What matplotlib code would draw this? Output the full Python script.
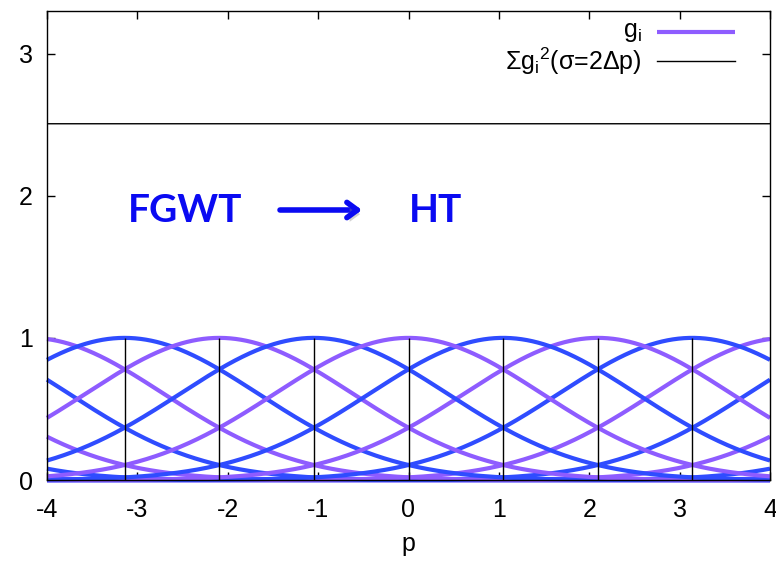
import numpy as np
import matplotlib
matplotlib.use("Agg")
import matplotlib.pyplot as plt
import matplotlib.patheffects as pe
from matplotlib.lines import Line2D

plt.rcParams["font.family"] = ["Liberation Sans", "DejaVu Sans"]
plt.rcParams["mathtext.fontset"] = "custom"
plt.rcParams["mathtext.rm"] = "Liberation Sans"
plt.rcParams["mathtext.it"] = "Liberation Sans:italic"
plt.rcParams["axes.unicode_minus"] = False

# ---------------------------------------------------------------------------
# Gaussian window family g_i(p) = exp(-(p - i*dp)^2 / sigma^2), sigma = 2 dp
# ---------------------------------------------------------------------------
dp = np.pi / 3                      # centre spacing
sigma = 2 * dp
idx = np.arange(-12, 13)            # window indices (far ones sit near zero)
centres = idx * dp

p_lo, p_hi = -4.0, 4.0
y_lo, y_hi = 0.0, 3.3
x_ticks = [-4, -3, -2, -1, 0, 1, 2, 3, 4]
y_ticks = [0, 1, 2, 3]

c_even = "#8E5CFF"   # purple
c_odd = "#2F4CFF"    # blue
c_text = "#0A0AF2"

p = np.linspace(p_lo, p_hi, 1200)
g = np.exp(-((p[None, :] - centres[:, None]) ** 2) / sigma ** 2)
gsum = (g ** 2).sum(axis=0)

fig = plt.figure(figsize=(7.76, 5.67), dpi=100)
ax = fig.add_axes([47 / 776, 1 - 480 / 567, 723 / 776, 469 / 567])

# order: far tails first so the visible bumps sit on top
order = np.argsort(-np.abs(idx))
for k in order:
    col = c_even if idx[k] % 2 == 0 else c_odd
    ax.plot(p, g[k], color=col, lw=3.0, solid_capstyle="butt",
            clip_on=False, zorder=2)

# peak markers
inside = centres[(centres > p_lo) & (centres < p_hi)]
ax.vlines(inside, 0, 1, color="black", lw=1.0, zorder=3)

ax.plot(p, gsum, color="black", lw=1.0, zorder=3)

ax.set_xlim(p_lo, p_hi)
ax.set_ylim(y_lo, y_hi)
ax.set_xticks(x_ticks)
ax.set_yticks(y_ticks)
ax.tick_params(direction="in", top=True, right=True, length=6, width=1,
               labelsize=18, pad=10)
ax.tick_params(axis="x", pad=13)
for s in ax.spines.values():
    s.set_linewidth(1.0)
    s.set_zorder(5)
ax.set_xlabel("p", fontsize=18, labelpad=7)

# key, gnuplot style (text right-aligned, sample to the right)
ax.text(0.823, 0.955, r"g$_\mathregular{i}$", transform=ax.transAxes,
        ha="right", va="center", fontsize=18)
ax.text(0.823, 0.893, r"Σg$_\mathregular{i}$$^\mathregular{2}$(σ=2Δp)",
        transform=ax.transAxes, ha="right", va="center", fontsize=18)
ax.add_line(Line2D([0.844, 0.951], [0.955, 0.955], transform=ax.transAxes,
                   color=c_even, lw=3.0, solid_capstyle="butt"))
ax.add_line(Line2D([0.844, 0.951], [0.893, 0.893], transform=ax.transAxes,
                   color="black", lw=1.0))

# annotation
fig.text(185 / 776, 1 - 211 / 567, "FGWT", family="Lato", weight="bold",
         fontsize=28, color=c_text, ha="center", va="center")
fig.text(436 / 776, 1 - 211 / 567, "HT", family="Lato", weight="bold",
         fontsize=28, color=c_text, ha="center", va="center")
arr = ax.annotate("", xy=(362, 567 - 210), xytext=(280, 567 - 210),
                  xycoords="figure pixels", textcoords="figure pixels",
                  arrowprops=dict(arrowstyle="->,head_length=0.75,head_width=0.55",
                                  lw=4.0, color=c_text, shrinkA=0, shrinkB=0))
arr.arrow_patch.set_path_effects([
    pe.SimplePatchShadow(offset=(2, -3), shadow_rgbFace="gray", alpha=0.35),
    pe.Normal()])

fig.savefig("out.png", dpi=100)
